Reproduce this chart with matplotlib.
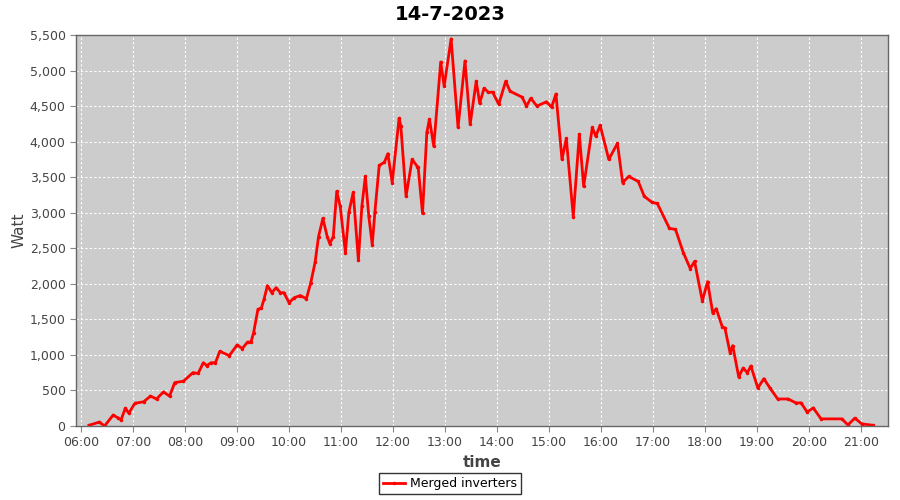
import pandas as pd
import matplotlib
matplotlib.use("Agg")
import matplotlib.pyplot as plt
import matplotlib.dates as mdates
from matplotlib.ticker import FuncFormatter

# =========================
# Data
# =========================
times = [
    "06:09", "06:21", "06:27", "06:37", "06:43", "06:46", "06:51", "06:55",
    "07:02", "07:12", "07:20", "07:27", "07:35", "07:42", "07:48", "07:58",
    "08:09", "08:15", "08:21", "08:25", "08:30", "08:35", "08:40", "08:51",
    "09:00", "09:06", "09:12", "09:16", "09:19", "09:24", "09:28", "09:31",
    "09:35", "09:40", "09:45", "09:50", "09:54", "10:00", "10:06", "10:13",
    "10:20", "10:25", "10:30", "10:34", "10:39", "10:44", "10:47", "10:51",
    "10:55", "10:59", "11:05", "11:09", "11:14", "11:20", "11:24", "11:28",
    "11:32", "11:36", "11:39", "11:44", "11:50", "11:54", "11:59", "12:07",
    "12:09", "12:15", "12:22", "12:28", "12:29", "12:34", "12:39", "12:42",
    "12:47", "12:55", "12:59", "13:07", "13:15", "13:23", "13:29", "13:36",
    "13:40", "13:45", "13:50", "13:55", "14:02", "14:10", "14:15", "14:29",
    "14:34", "14:39", "14:46", "14:57", "15:03", "15:08", "15:15", "15:20",
    "15:28", "15:35", "15:40", "15:50", "15:54", "15:59", "16:09", "16:19",
    "16:25", "16:32", "16:43", "16:50", "16:59", "17:05", "17:19", "17:26",
    "17:35", "17:43", "17:48", "17:57", "18:03", "18:09", "18:13", "18:20",
    "18:23", "18:29", "18:32", "18:39", "18:44", "18:49", "18:53", "19:01",
    "19:08", "19:15", "19:24", "19:36", "19:45", "19:51", "19:58", "20:05",
    "20:14", "20:38", "20:45", "20:53", "21:01", "21:14",
]
watt = [
    10, 55, 0, 155, 110, 85, 250, 180,
    320, 340, 420, 380, 480, 420, 610, 630,
    750, 740, 890, 850, 890, 890, 1050, 990,
    1140, 1090, 1180, 1180, 1310, 1640, 1660, 1780,
    1975, 1875, 1945, 1875, 1875, 1735, 1805, 1835,
    1790, 2015, 2300, 2665, 2920, 2665, 2565, 2665,
    3300, 3090, 2440, 3005, 3285, 2330, 3090, 3510,
    2950, 2550, 3005, 3665, 3710, 3830, 3425, 4330,
    4215, 3230, 3750, 3650, 3640, 2990, 4130, 4315,
    3935, 5120, 4780, 5445, 4200, 5135, 4245, 4850,
    4540, 4750, 4695, 4695, 4525, 4850, 4710, 4625,
    4500, 4610, 4500, 4560, 4485, 4670, 3750, 4045,
    2945, 4105, 3370, 4200, 4075, 4230, 3750, 3975,
    3425, 3510, 3440, 3230, 3145, 3130, 2780, 2765,
    2440, 2215, 2315, 1760, 2030, 1590, 1650, 1395,
    1380, 1030, 1130, 690, 815, 750, 845, 535,
    665, 535, 380, 380, 325, 325, 195, 255,
    100, 100, 15, 110, 30, 10,
]

day = "2023-07-14"
t = pd.to_datetime([f"{day} {h}" for h in times])

# =========================
# Plot
# =========================
fig = plt.figure(figsize=(9, 5), dpi=100)
ax = fig.add_axes([0.0844, 0.148, 0.902, 0.782])
ax.set_facecolor("#cccccc")

line, = ax.plot(t, watt, color="#ff0000", lw=2, marker="o", ms=1.5,
                solid_joinstyle="round", label="Merged inverters")

ax.set_xlim(pd.Timestamp(f"{day} 05:54"), pd.Timestamp(f"{day} 21:31"))
ax.set_ylim(0, 5500)
ax.set_yticks(range(0, 5501, 500))
ax.yaxis.set_major_formatter(FuncFormatter(lambda v, p: f"{int(v):,}"))
ax.xaxis.set_major_locator(mdates.HourLocator())
ax.xaxis.set_major_formatter(mdates.DateFormatter("%H:%M"))

ax.grid(True, color="white", ls=(0, (2, 2)), lw=0.8)
ax.set_axisbelow(True)

for s in ax.spines.values():
    s.set_color("#666666")
    s.set_linewidth(1)

ax.tick_params(axis="both", colors="#888888", labelcolor="#444444",
               labelsize=9, length=4, direction="out")

fig.text(0.5, 0.972, "14-7-2023", ha="center", va="center",
         fontsize=14, fontweight="bold")
ax.set_xlabel("time", fontsize=11, fontweight="bold", color="#444444", labelpad=4)
ax.set_ylabel("Watt", fontsize=11, color="#444444", labelpad=2)

leg = fig.legend(handles=[line], loc="lower center", bbox_to_anchor=(0.5, 0.0),
                 fontsize=9, frameon=True, fancybox=False, handlelength=1.8,
                 borderpad=0.3, handletextpad=0.4)
leg.get_frame().set_edgecolor("black")
leg.get_frame().set_linewidth(1)

fig.savefig("out.png", dpi=100)
